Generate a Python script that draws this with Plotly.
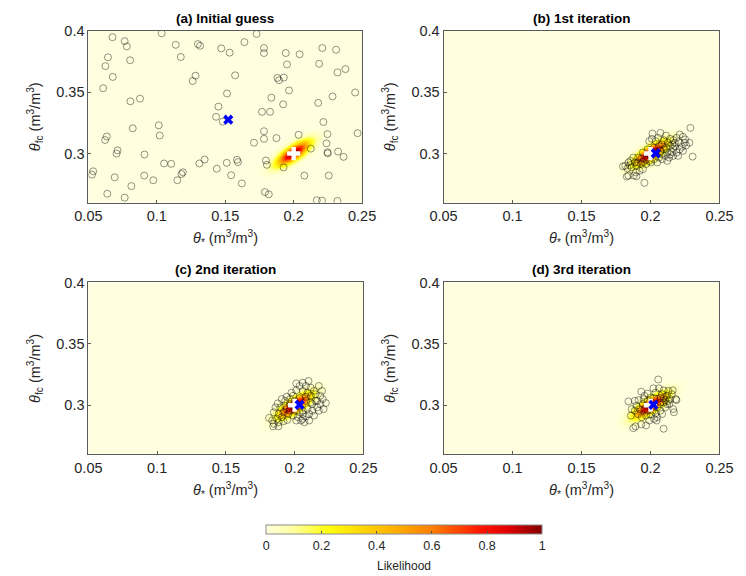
import numpy as np
import plotly.graph_objects as go

# ---------------- data ----------------
panel_titles = ["(a) Initial guess", "(b) 1st iteration", "(c) 2nd iteration", "(d) 3rd iteration"]

x_ticks = [0.05, 0.1, 0.15, 0.2, 0.25]
x_tick_labels = ["0.05", "0.1", "0.15", "0.2", "0.25"]
y_ticks = [0.3, 0.35, 0.4]
y_tick_labels = ["0.3", "0.35", "0.4"]
cbar_ticks = [0, 0.2, 0.4, 0.6, 0.8, 1]
cbar_tick_labels = ["0", "0.2", "0.4", "0.6", "0.8", "1"]

true_theta_star = 0.2
true_theta_fc = 0.3

mean_theta_star = [0.1522, 0.2038, 0.2036, 0.2021]
mean_theta_fc = [0.3276, 0.3002, 0.3004, 0.3004]

# likelihood surface parameters (bivariate normal, peak normalised to 1)
lik_sigma_star = 0.0080
lik_sigma_fc = 0.0066
lik_rho = 0.76

# samples (theta_*, theta_fc)
a_star = [0.0676, 0.0765, 0.0781, 0.0643, 0.0624, 0.0678, 0.0608, 0.0805, 0.0877, 0.0807,
          0.0824, 0.0634, 0.0622, 0.0713, 0.0706, 0.0535, 0.0526, 0.0692, 0.0814, 0.0638,
          0.0765, 0.0910, 0.0908, 0.0974, 0.1014, 0.1021, 0.1035, 0.1053, 0.1105, 0.1138,
          0.1175, 0.1150, 0.1180, 0.1190, 0.1262, 0.1283, 0.1300, 0.1316, 0.1311, 0.1349,
          0.1471, 0.1532, 0.1450, 0.1433, 0.1482, 0.1513, 0.1438, 0.1511, 0.1543, 0.1586,
          0.1593, 0.1621, 0.1640, 0.1572, 0.1729, 0.1783, 0.1783, 0.1710, 0.1768, 0.1783,
          0.1783, 0.1797, 0.1804, 0.1790, 0.1818, 0.1837, 0.1827, 0.1874, 0.1881, 0.1893,
          0.1928, 0.1923, 0.1942, 0.1951, 0.1966, 0.1926, 0.2036, 0.2043, 0.2125, 0.2078,
          0.2186, 0.2209, 0.2179, 0.2217, 0.2247, 0.2240, 0.2247, 0.2249, 0.2256, 0.2169,
          0.2207, 0.2320, 0.2284, 0.2310, 0.2320, 0.2378, 0.2324, 0.2364, 0.2449, 0.2467]
a_fc = [0.3949, 0.3917, 0.3874, 0.3785, 0.3713, 0.3625, 0.3533, 0.3761, 0.3448, 0.3426,
        0.3206, 0.3139, 0.3110, 0.3026, 0.3000, 0.2855, 0.2828, 0.2806, 0.2734, 0.2672,
        0.2640, 0.2992, 0.2820, 0.2782, 0.3230, 0.3147, 0.3981, 0.2919, 0.2916, 0.3887,
        0.3788, 0.2782, 0.2833, 0.2847, 0.3592, 0.3635, 0.3893, 0.3879, 0.2919, 0.2951,
        0.3858, 0.3823, 0.3383, 0.3300, 0.3260, 0.3490, 0.2876, 0.2924, 0.2823, 0.2949,
        0.2930, 0.2756, 0.3909, 0.3638, 0.3976, 0.3861, 0.3820, 0.3088, 0.3340, 0.3182,
        0.3120, 0.2943, 0.2908, 0.2686, 0.2667, 0.3456, 0.3340, 0.3126, 0.3617, 0.3598,
        0.3620, 0.3402, 0.3820, 0.3727, 0.3515, 0.2887, 0.3153, 0.3810, 0.3040, 0.2820,
        0.3732, 0.3861, 0.3413, 0.3257, 0.3158, 0.3083, 0.3010, 0.3002, 0.2820, 0.2619,
        0.2616, 0.2613, 0.3466, 0.3847, 0.3662, 0.3689, 0.3016, 0.2973, 0.3498, 0.3166]

b_star = [0.2014, 0.2072, 0.2112, 0.2289, 0.2212, 0.2235, 0.2189, 0.2251, 0.2165, 0.2142,
          0.2096, 0.2038, 0.1991, 0.2010, 0.2056, 0.2126, 0.2177, 0.2205, 0.2258, 0.2228,
          0.2212, 0.2165, 0.2142, 0.2112, 0.2154, 0.2189, 0.2165, 0.2135, 0.2121, 0.2084,
          0.2061, 0.2084, 0.2119, 0.2305, 0.2026, 0.1991, 0.1968, 0.1933, 0.1910, 0.1875,
          0.1856, 0.1840, 0.1817, 0.1800, 0.1833, 0.1863, 0.1898, 0.1933, 0.1968, 0.2003,
          0.1945, 0.1921, 0.1893, 0.1879, 0.1840, 0.1828, 0.1898, 0.1956, 0.1945, 0.2049,
          0.2096, 0.2061, 0.2026, 0.2084, 0.2142, 0.2200, 0.2235, 0.2282, 0.2177, 0.2107,
          0.2038, 0.1979, 0.1945, 0.2003, 0.2072, 0.1910, 0.1886, 0.1852, 0.2158, 0.2247]
b_fc = [0.3163, 0.3168, 0.3147, 0.3209, 0.3155, 0.3136, 0.3128, 0.3115, 0.3109, 0.3120,
        0.3109, 0.3101, 0.3101, 0.3120, 0.3128, 0.3088, 0.3088, 0.3093, 0.3066, 0.3056,
        0.3034, 0.3042, 0.3061, 0.3048, 0.3013, 0.3008, 0.2981, 0.2967, 0.2940, 0.2954,
        0.2967, 0.2994, 0.3008, 0.2975, 0.2954, 0.2940, 0.2948, 0.2959, 0.2967, 0.2967,
        0.2940, 0.2927, 0.2900, 0.2895, 0.2879, 0.2887, 0.2900, 0.2914, 0.2914, 0.2927,
        0.2873, 0.2860, 0.2847, 0.2820, 0.2820, 0.2812, 0.2814, 0.2761, 0.2932, 0.2927,
        0.3034, 0.3061, 0.3048, 0.3075, 0.2994, 0.2981, 0.3021, 0.3088, 0.3061, 0.2981,
        0.3013, 0.3034, 0.3008, 0.2981, 0.3021, 0.2927, 0.2927, 0.2906, 0.3075, 0.3088]

c_star = [0.2012, 0.2059, 0.2101, 0.2036, 0.2082, 0.2176, 0.2141, 0.2187, 0.2204, 0.2227,
          0.2152, 0.2117, 0.2094, 0.2059, 0.2012, 0.1977, 0.1942, 0.1907, 0.1877, 0.1861,
          0.1849, 0.1884, 0.1919, 0.1954, 0.1989, 0.2024, 0.2059, 0.2082, 0.2106, 0.2129,
          0.2164, 0.2187, 0.2152, 0.2117, 0.2082, 0.2129, 0.2094, 0.2059, 0.2036, 0.2001,
          0.1942, 0.1907, 0.1872, 0.1837, 0.1814, 0.1849, 0.1884, 0.1919, 0.1947, 0.1882,
          0.1844, 0.2059, 0.2047, 0.2071, 0.2176, 0.2141, 0.2164, 0.2211, 0.2036, 0.2001,
          0.1966, 0.1931, 0.2082, 0.1989, 0.1896, 0.1966, 0.2106, 0.2012, 0.2199, 0.2117,
          0.1966, 0.1931]
c_fc = [0.3178, 0.3184, 0.3197, 0.3157, 0.3157, 0.3157, 0.3117, 0.3077, 0.3050, 0.3018,
        0.3090, 0.3077, 0.3103, 0.3117, 0.3122, 0.3103, 0.3069, 0.3050, 0.3015, 0.2983,
        0.2943, 0.2929, 0.2943, 0.2929, 0.2916, 0.2903, 0.2889, 0.2908, 0.2929, 0.2956,
        0.2983, 0.3010, 0.3036, 0.3023, 0.3036, 0.3010, 0.2969, 0.2956, 0.2943, 0.2956,
        0.2969, 0.2903, 0.2889, 0.2876, 0.2897, 0.2849, 0.2862, 0.2870, 0.2881, 0.2828,
        0.2828, 0.2929, 0.2876, 0.2862, 0.2956, 0.2916, 0.3036, 0.2969, 0.3058, 0.3036,
        0.3010, 0.2996, 0.3069, 0.3077, 0.2983, 0.2956, 0.2876, 0.2876, 0.3117, 0.3143,
        0.3050, 0.3036]

d_star = [0.2056, 0.2021, 0.2061, 0.2095, 0.2130, 0.2161, 0.1933, 0.1979, 0.2037, 0.2084,
          0.2119, 0.2154, 0.2184, 0.2142, 0.2107, 0.2072, 0.1840, 0.1886, 0.1914, 0.1951,
          0.1979, 0.1863, 0.1858, 0.1886, 0.1921, 0.1956, 0.1909, 0.1937, 0.1968, 0.2002,
          0.2037, 0.2072, 0.2107, 0.2137, 0.2165, 0.2119, 0.2049, 0.2026, 0.1991, 0.1968,
          0.1933, 0.1891, 0.1875, 0.2095, 0.2044, 0.2170, 0.2084, 0.2072, 0.2049, 0.2014,
          0.1944, 0.2095, 0.2188, 0.1898, 0.2002, 0.1956, 0.2026, 0.1979, 0.2095, 0.2130]
d_fc = [0.3210, 0.3138, 0.3138, 0.3122, 0.3117, 0.3122, 0.3111, 0.3095, 0.3103, 0.3090,
        0.3077, 0.3090, 0.3050, 0.3050, 0.3042, 0.3058, 0.3031, 0.3036, 0.3042, 0.3050,
        0.3036, 0.2969, 0.2916, 0.2956, 0.2969, 0.2969, 0.2929, 0.2903, 0.2916, 0.2924,
        0.2935, 0.2956, 0.2983, 0.3010, 0.2969, 0.3010, 0.2903, 0.2889, 0.2876, 0.2836,
        0.2844, 0.2828, 0.2814, 0.2809, 0.2876, 0.2943, 0.2929, 0.3023, 0.2983, 0.2956,
        0.3010, 0.3023, 0.3042, 0.2996, 0.3063, 0.3077, 0.3058, 0.2956, 0.3058, 0.3036]

samples_star = [a_star, b_star, c_star, d_star]
samples_fc = [a_fc, b_fc, c_fc, d_fc]

# ---------------- likelihood grid ----------------
gx = np.linspace(0.05, 0.25, 401)
gy = np.linspace(0.26, 0.40, 281)
GX, GY = np.meshgrid(gx, gy)
u = (GX - true_theta_star) / lik_sigma_star
v = (GY - true_theta_fc) / lik_sigma_fc
Z = np.exp(-(u**2 - 2 * lik_rho * u * v + v**2) / (2 * (1 - lik_rho**2)))

colorscale = [
    [0.0, "#FFFFE0"],
    [0.1, "#FFFFA0"],
    [0.22, "#FFFF10"],
    [0.42, "#FFC000"],
    [0.6, "#FF8000"],
    [0.78, "#FF1400"],
    [0.88, "#E00000"],
    [1.0, "#800000"],
]

# ---------------- figure ----------------
W, H = 746, 576
boxes = [  # left, right, top, bottom in px
    (77.3, 361.7, 23.3, 197.3),
    (446.3, 733.0, 23.3, 197.3),
    (77.3, 363.0, 278.3, 452.7),
    (446.3, 733.0, 278.3, 452.7),
]

fig = go.Figure()
font_fam = "Liberation Sans, Arial, sans-serif"
txt_col = "#262626"
tick_size = 14.5

for i in range(4):
    xa = "x" if i == 0 else f"x{i+1}"
    ya = "y" if i == 0 else f"y{i+1}"
    fig.add_trace(go.Heatmap(x=gx, y=gy, z=Z, coloraxis="coloraxis", zsmooth=False,
                             xaxis=xa, yaxis=ya, hoverinfo="skip"))
    fig.add_trace(go.Scatter(x=samples_star[i], y=samples_fc[i], mode="markers",
                             marker=dict(symbol="circle-open", size=7,
                                         color="rgba(0,0,0,0.42)", line=dict(width=1)),
                             xaxis=xa, yaxis=ya, showlegend=False))
    fig.add_trace(go.Scatter(x=[true_theta_star], y=[true_theta_fc], mode="markers",
                             marker=dict(symbol="cross", size=11, color="white",
                                         line=dict(width=0)),
                             xaxis=xa, yaxis=ya, showlegend=False))
    fig.add_trace(go.Scatter(x=[mean_theta_star[i]], y=[mean_theta_fc[i]], mode="markers",
                             marker=dict(symbol="x", size=9, color="#0000FF",
                                         line=dict(width=0)),
                             xaxis=xa, yaxis=ya, showlegend=False))

    l, r, t, b = boxes[i]
    xdom = [l / W, r / W]
    ydom = [1 - b / H, 1 - t / H]
    axis_common = dict(showline=True, linecolor="#5a5a5a", linewidth=1, mirror=True,
                       ticks="inside", ticklen=3, tickcolor="#5a5a5a", showgrid=False,
                       zeroline=False, tickfont=dict(size=tick_size, color=txt_col, family=font_fam))
    fig.layout[("xaxis" if i == 0 else f"xaxis{i+1}")] = dict(
        domain=xdom, anchor=ya, range=[0.05, 0.25], tickvals=x_ticks, ticktext=x_tick_labels,
        **axis_common)
    fig.layout[("yaxis" if i == 0 else f"yaxis{i+1}")] = dict(
        domain=ydom, anchor=xa, range=[0.26, 0.40], tickvals=y_ticks, ticktext=y_tick_labels,
        title=dict(text="<i>θ</i><sub>fc</sub> (m<sup>3</sup>/m<sup>3</sup>)", standoff=12,
                   font=dict(size=tick_size, color=txt_col, family=font_fam)),
        **axis_common)
    fig.add_annotation(text=f"<b>{panel_titles[i]}</b>", x=(xdom[0] + xdom[1]) / 2,
                       y=ydom[1], xref="paper", yref="paper", xanchor="center",
                       yanchor="bottom", yshift=3, showarrow=False,
                       font=dict(size=13.5, color="#000000", family=font_fam))
    fig.add_annotation(text="<i>θ</i><sub>*</sub> (m<sup>3</sup>/m<sup>3</sup>)",
                       x=(xdom[0] + xdom[1]) / 2, y=1 - (b + 36) / H,
                       xref="paper", yref="paper", xanchor="center", yanchor="middle",
                       showarrow=False,
                       font=dict(size=tick_size, color=txt_col, family=font_fam))

fig.add_annotation(text="Likelihood", x=405.5 / W, y=1 - 566 / H, xref="paper", yref="paper",
                   xanchor="center", yanchor="middle", showarrow=False,
                   font=dict(size=12, color=txt_col, family=font_fam))

fig.update_layout(
    width=W, height=H, margin=dict(l=0, r=0, t=0, b=0),
    paper_bgcolor="white", plot_bgcolor="white", showlegend=False,
    coloraxis=dict(
        colorscale=colorscale, cmin=0, cmax=1,
        colorbar=dict(orientation="h", x=405.5 / W, xanchor="center", y=1 - 524 / H,
                      yanchor="top", len=287 / W, lenmode="fraction", thickness=9,
                      outlinecolor="#8a8a8a", outlinewidth=1, ticks="inside", ticklen=3,
                      tickcolor="#555555", tickvals=cbar_ticks, ticktext=cbar_tick_labels,
                      tickfont=dict(size=12.5, color=txt_col, family=font_fam),
                      xpad=0, ypad=0),
    ),
)

fig.write_html("out.html")
